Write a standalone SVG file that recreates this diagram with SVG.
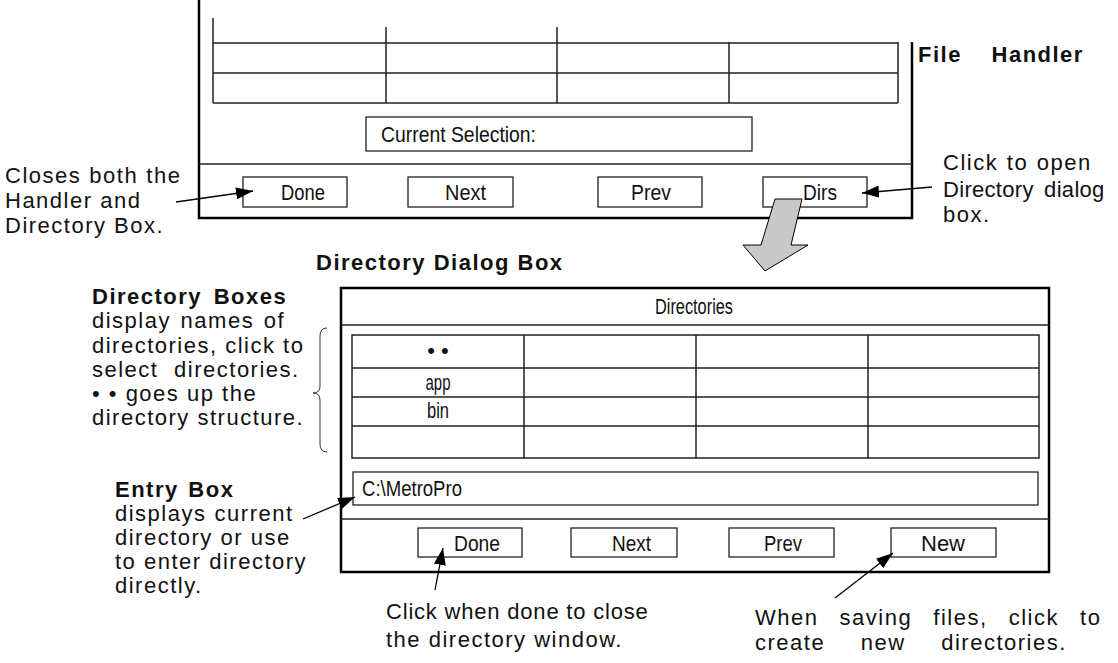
<svg xmlns="http://www.w3.org/2000/svg" width="1118" height="663" viewBox="0 0 1118 663">
<style>
.frame{fill:none;stroke:#000;stroke-width:2.5}
.ln{fill:none;stroke:#222;stroke-width:1.5}
.btn{fill:#fff;stroke:#222;stroke-width:1.3}
.cond{font-family:"Liberation Sans",Arial,sans-serif;font-size:22px;fill:#111}
.ann{font-family:"Liberation Sans",Arial,sans-serif;font-size:22px;letter-spacing:1.5px;fill:#111}
.bold{font-family:"Liberation Sans",Arial,sans-serif;font-size:22px;letter-spacing:1.5px;font-weight:bold;fill:#111}
.arr{fill:none;stroke:#000;stroke-width:1.3;marker-end:url(#ah)}
</style>
<defs>
<marker id="ah" viewBox="0 0 17 12" refX="17" refY="6" markerWidth="17" markerHeight="12" markerUnits="userSpaceOnUse" orient="auto">
<path d="M0,0 L17,6 L0,12 Z" fill="#000"/>
</marker>
</defs>

<g id="file-handler">
<path class="frame" d="M199,0 V218 H912 V42"/>
<path class="ln" d="M213,18 V103 M386,27 V103 M557,27 V103 M729,42 V103 M898,42 V103 M213,43 H898 M213,73 H898 M213,103 H898"/>
<rect class="btn" x="366" y="117" width="386" height="34"/>
<text class="cond" x="381" y="142" textLength="155" lengthAdjust="spacingAndGlyphs">Current Selection:</text>
<path class="ln" d="M199,164 H912"/>
<rect class="btn" x="243" y="177" width="104" height="30"/>
<text class="cond" x="281" y="200" textLength="44" lengthAdjust="spacingAndGlyphs">Done</text>
<rect class="btn" x="408" y="177" width="105" height="30"/>
<text class="cond" x="445" y="200" textLength="41" lengthAdjust="spacingAndGlyphs">Next</text>
<rect class="btn" x="598" y="177" width="104" height="30"/>
<text class="cond" x="631" y="200" textLength="40" lengthAdjust="spacingAndGlyphs">Prev</text>
<rect class="btn" x="763" y="177" width="104" height="30"/>
<text class="cond" x="803" y="200" textLength="34" lengthAdjust="spacingAndGlyphs">Dirs</text>
</g>

<g id="title-file-handler">
<text class="bold" x="918" y="62" word-spacing="22">File Handler</text>
</g>

<g id="gray-arrow">
<polygon points="775,199 802,199 791,245 808,245 765,271 743,245 761,245" fill="#c8c8c8" stroke="#000" stroke-width="1"/>
</g>

<g id="note-closes">
<text class="ann" x="5" y="183" word-spacing="0.5">Closes both the</text>
<text class="ann" x="5" y="208">Handler and</text>
<text class="ann" x="5" y="233">Directory Box.</text>
</g>

<g id="note-dirs">
<text class="ann" x="943" y="170" word-spacing="1">Click to open</text>
<text class="ann" x="943" y="197" style="letter-spacing:0.3px" word-spacing="4">Directory dialog</text>
<text class="ann" x="943" y="222">box.</text>
</g>

<g id="title-dialog">
<text class="bold" x="316" y="270">Directory Dialog Box</text>
</g>

<g id="directory-dialog">
<rect class="frame" x="341" y="288" width="708" height="284"/>
<path class="ln" d="M341,325 H1049"/>
<text class="cond" x="655" y="314" textLength="78" lengthAdjust="spacingAndGlyphs">Directories</text>
<rect class="ln" x="352" y="335" width="687" height="123"/>
<path class="ln" d="M352,368 H1039 M352,397 H1039 M352,426 H1039 M524,335 V458 M696,335 V458 M868,335 V458"/>
<text class="cond" x="438" y="358" text-anchor="middle">• •</text>
<text class="cond" x="438" y="390" text-anchor="middle" textLength="25" lengthAdjust="spacingAndGlyphs">app</text>
<text class="cond" x="438" y="418" text-anchor="middle" textLength="22" lengthAdjust="spacingAndGlyphs">bin</text>
<rect class="btn" x="353" y="472" width="685" height="33"/>
<text class="cond" x="362" y="496" textLength="100" lengthAdjust="spacingAndGlyphs">C:\MetroPro</text>
<path class="ln" d="M341,519 H1049"/>
<rect class="btn" x="418" y="528" width="104" height="29"/>
<text class="cond" x="454" y="551" textLength="46" lengthAdjust="spacingAndGlyphs">Done</text>
<rect class="btn" x="571" y="528" width="106" height="29"/>
<text class="cond" x="612" y="551" textLength="39" lengthAdjust="spacingAndGlyphs">Next</text>
<rect class="btn" x="729" y="528" width="105" height="29"/>
<text class="cond" x="764" y="551" textLength="38" lengthAdjust="spacingAndGlyphs">Prev</text>
<rect class="btn" x="891" y="528" width="105" height="29"/>
<text class="cond" x="921" y="551" textLength="44" lengthAdjust="spacingAndGlyphs">New</text>
</g>

<g id="note-directory-boxes">
<text class="bold" x="92" y="304" word-spacing="4">Directory Boxes</text>
<text class="ann" x="92" y="328" word-spacing="2">display names of</text>
<text class="ann" x="92" y="353">directories, click to</text>
<text class="ann" x="92" y="377" word-spacing="8">select directories.</text>
<text class="ann" x="92" y="401">• • goes up the</text>
<text class="ann" x="92" y="425">directory structure.</text>
<path d="M327,328 Q320,328 320,336 L320,386 Q320,393 313,393 Q320,393 320,400 L320,444 Q320,452 327,452" fill="none" stroke="#333" stroke-width="1"/>
</g>

<g id="note-entry-box">
<text class="bold" x="115" y="497" word-spacing="2">Entry Box</text>
<text class="ann" x="115" y="521" word-spacing="0.5">displays current</text>
<text class="ann" x="115" y="545">directory or use</text>
<text class="ann" x="115" y="569">to enter directory</text>
<text class="ann" x="115" y="593">directly.</text>
</g>

<g id="note-done">
<text class="ann" x="386" y="619" style="letter-spacing:0.8px">Click when done to close</text>
<text class="ann" x="386" y="647">the directory window.</text>
</g>

<g id="note-new">
<text class="ann" x="755" y="625" word-spacing="13.5">When saving files, click to</text>
<text class="ann" x="755" y="650" word-spacing="28">create new directories.</text>
</g>

<g id="connectors">
<line class="arr" x1="176" y1="202" x2="253" y2="191"/>
<line class="arr" x1="932" y1="187" x2="862" y2="193"/>
<line class="arr" x1="303" y1="519" x2="355" y2="497"/>
<line class="arr" x1="435" y1="590" x2="443" y2="548"/>
<line class="arr" x1="835" y1="598" x2="893" y2="553"/>
</g>
</svg>
